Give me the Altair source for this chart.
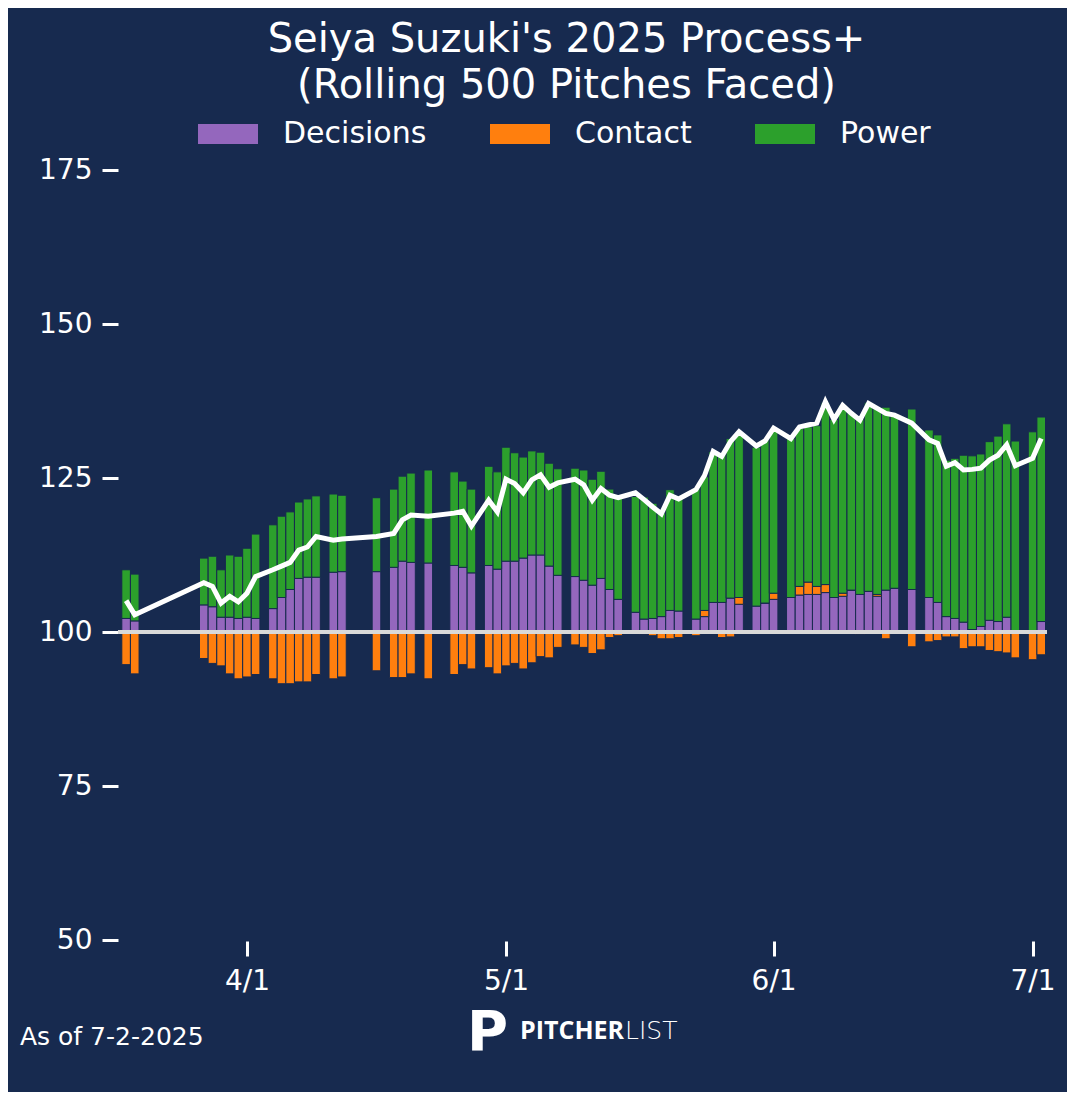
import altair as alt
import pandas as pd

BG = "#172a4f"
BASELINE = 100

dates = [
    "2025-03-18", "2025-03-19", "2025-03-27", "2025-03-28", "2025-03-29", "2025-03-30",
    "2025-03-31", "2025-04-01", "2025-04-02", "2025-04-04", "2025-04-05", "2025-04-06",
    "2025-04-07", "2025-04-08", "2025-04-09", "2025-04-11", "2025-04-12", "2025-04-16",
    "2025-04-18", "2025-04-19", "2025-04-20", "2025-04-22", "2025-04-25", "2025-04-26",
    "2025-04-27", "2025-04-29", "2025-04-30", "2025-05-01", "2025-05-02", "2025-05-03",
    "2025-05-04", "2025-05-05", "2025-05-06", "2025-05-07", "2025-05-09", "2025-05-10",
    "2025-05-11", "2025-05-12", "2025-05-13", "2025-05-14", "2025-05-16", "2025-05-17",
    "2025-05-18", "2025-05-19", "2025-05-20", "2025-05-21", "2025-05-23", "2025-05-24",
    "2025-05-25", "2025-05-26", "2025-05-27", "2025-05-28", "2025-05-30", "2025-05-31",
    "2025-06-01", "2025-06-03", "2025-06-04", "2025-06-05", "2025-06-06", "2025-06-07",
    "2025-06-08", "2025-06-09", "2025-06-10", "2025-06-11", "2025-06-12", "2025-06-13",
    "2025-06-14", "2025-06-15", "2025-06-17", "2025-06-19", "2025-06-20", "2025-06-21",
    "2025-06-22", "2025-06-23", "2025-06-24", "2025-06-25", "2025-06-26", "2025-06-27",
    "2025-06-28", "2025-06-29", "2025-07-01", "2025-07-02",
]

# contributions relative to 100
decisions = [
    2.2, 1.8, 4.4, 4.1, 2.4, 2.4, 2.2, 2.4, 2.2, 3.8, 5.6, 6.9,
    8.7, 8.9, 8.9, 9.7, 9.8, 9.8, 10.5, 11.5, 11.3, 11.2, 10.8, 10.5,
    9.6, 10.8, 10.2, 11.5, 11.5, 12.0, 12.5, 12.5, 10.7, 9.2, 9.0, 8.4,
    7.6, 8.7, 6.9, 5.3, 3.2, 2.1, 2.2, 2.5, 3.5, 3.4, 2.1, 2.5,
    4.8, 4.8, 5.5, 4.5, 4.2, 4.7, 5.3, 5.6, 6.0, 6.1, 6.1, 6.4,
    5.6, 5.8, 6.8, 6.1, 6.6, 5.8, 6.8, 7.1, 6.9, 5.6, 4.8, 2.5,
    2.2, 1.6, 0.4, 0.9, 1.9, 1.7, 2.4, 0.0, 0.0, 1.7,
]
contact = [
    -5.3, -6.8, -4.3, -5.1, -5.5, -6.8, -7.6, -7.3, -6.9, -7.6, -8.4, -8.4,
    -8.1, -8.1, -6.9, -7.6, -7.3, -6.3, -7.4, -7.4, -6.8, -7.6, -6.9, -5.3,
    -6.0, -5.8, -6.8, -5.5, -5.1, -6.0, -5.0, -4.0, -4.2, -2.5, -2.1, -2.5,
    -3.5, -2.9, -0.9, -0.6, -0.2, -0.4, -0.6, -1.1, -1.1, -0.9, -0.6, 1.0,
    0.0, -0.9, -0.8, 1.1, -0.2, 0.0, 1.0, 0.0, 1.4, 2.0, 1.3, 1.3,
    0.0, 0.5, 0.0, -0.4, 0.0, 0.3, -1.1, 0.0, -2.4, -1.6, -1.4, -0.8,
    -0.8, -2.7, -2.4, -2.4, -3.0, -3.2, -3.4, -4.2, -4.5, -3.7,
]
power = [
    7.9, 7.6, 7.6, 8.2, 7.7, 10.1, 10.1, 11.2, 13.7, 13.6, 13.2, 12.6,
    12.4, 12.7, 13.2, 12.7, 12.4, 12.0, 12.7, 13.8, 14.5, 15.1, 15.2, 14.0,
    13.6, 16.1, 15.8, 18.5, 17.6, 16.4, 16.9, 16.7, 16.7, 17.3, 17.6, 17.9,
    17.2, 17.4, 16.3, 16.6, 18.8, 19.8, 18.7, 16.8, 19.6, 18.7, 21.2, 21.7,
    24.5, 24.2, 25.9, 26.7, 25.8, 26.5, 26.5, 25.8, 25.7, 25.2, 26.1, 29.5,
    28.9, 30.5, 28.8, 28.5, 30.6, 30.2, 29.7, 28.2, 29.3, 27.2, 27.2, 25.4,
    26.0, 27.1, 28.2, 28.0, 29.0, 30.1, 31.4, 31.0, 32.5, 33.2,
]
process_plus = [
    105.1, 102.8, 108.0, 107.4, 104.7, 105.8, 104.9, 106.3, 109.0, 110.1, 110.7, 111.3,
    113.3, 113.8, 115.5, 114.9, 115.1, 115.5, 116.0, 118.2, 119.0, 118.8, 119.3, 119.6,
    117.2, 121.4, 119.5, 124.8, 124.1, 122.6, 124.7, 125.5, 123.5, 124.2, 124.8, 123.9,
    121.4, 123.3, 122.2, 121.8, 122.6, 121.5, 120.3, 119.2, 122.2, 121.6, 123.1, 125.4,
    129.3, 128.5, 130.9, 132.5, 130.2, 131.0, 133.1, 131.4, 133.3, 133.6, 133.9, 137.4,
    134.5, 136.8, 135.5, 134.4, 137.1, 136.3, 135.5, 135.2, 133.9, 131.2, 130.6, 126.9,
    127.5, 126.3, 126.4, 126.6, 127.9, 128.7, 130.4, 127.0, 128.2, 131.4,
]

components = ["Decisions", "Contact", "Power"]
colors = ["#9467bd", "#ff7f0e", "#2ca02c"]
y_ticks = [50, 75, 100, 125, 150, 175]
x_ticks = ["2025-04-01", "2025-05-01", "2025-06-01", "2025-07-01"]
x_range = ["2025-03-17 01:26", "2025-07-02 16:05"]

title_lines = ["Seiya Suzuki's 2025 Process+", "(Rolling 500 Pitches Faced)"]
as_of = "As of 7-2-2025"


def to_dt(s):
    t = pd.Timestamp(s)
    return alt.DateTime(year=t.year, month=t.month, date=t.day,
                        hours=t.hour, minutes=t.minute, utc=True)


n = len(dates)
long_df = pd.DataFrame({
    "date": dates * 3,
    "component": [c for c in components for _ in range(n)],
    "order": [i for i in range(3) for _ in range(n)],
    "value": decisions + contact + power,
})
line_df = pd.DataFrame({"date": dates, "process_plus": process_plus})

x_scale = alt.Scale(type="utc", domain=[to_dt(d) for d in x_range], padding=0)
y_scale = alt.Scale(domain=[y_ticks[0], y_ticks[-1]], nice=False, zero=False)

x_axis = alt.Axis(
    values=[to_dt(d) for d in x_ticks], format="%-m/%-d", title=None,
    grid=False, domain=False, tickColor="white", tickWidth=3, tickSize=15,
    offset=1, labelFontSize=28, labelColor="white", labelPadding=11,
)
y_axis = alt.Axis(
    values=y_ticks, title=None, grid=False, domain=False, tickColor="white",
    tickWidth=3, tickSize=16, labelFontSize=28, labelColor="white", labelPadding=10,
)

bars = (
    alt.Chart(long_df)
    .transform_stack(stack="value", groupby=["date"], as_=["v0", "v1"],
                     sort=[alt.SortField("order")])
    .transform_calculate(y0=f"datum.v0 + {BASELINE}", y1=f"datum.v1 + {BASELINE}")
    .mark_bar(width=8.6, stroke=BG, strokeWidth=1)
    .encode(
        x=alt.X("date:T", scale=x_scale, axis=x_axis),
        y=alt.Y("y0:Q", scale=y_scale, axis=y_axis),
        y2="y1:Q",
        color=alt.Color(
            "component:N",
            scale=alt.Scale(domain=components, range=colors),
            legend=alt.Legend(
                title=None, orient="none", direction="horizontal",
                legendX=80, legendY=-66, padding=0,
                symbolType="M-1,-0.3333H1V0.3333H-1Z", symbolSize=3600,
                symbolStrokeWidth=0, symbolOpacity=1,
                labelFontSize=30, labelColor="white", labelOffset=25,
                columnPadding=63,
            ),
        ),
    )
)

baseline = (
    alt.Chart(pd.DataFrame({"y": [BASELINE]}))
    .mark_rule(color="#d9d9d9", strokeWidth=4)
    .encode(y=alt.Y("y:Q", scale=y_scale))
)

line = (
    alt.Chart(line_df)
    .mark_line(color="white", strokeWidth=5)
    .encode(x=alt.X("date:T", scale=x_scale), y=alt.Y("process_plus:Q", scale=y_scale))
)

footer = (
    alt.Chart(pd.DataFrame({"t": [as_of]}))
    .mark_text(align="left", baseline="alphabetic", fontSize=25, color="white")
    .encode(text="t:N", x=alt.value(-98), y=alt.value(875))
)
logo_p = (
    alt.Chart(pd.DataFrame({"t": ["P"]}))
    .mark_text(align="left", baseline="alphabetic", fontSize=56, fontWeight="bold",
               color="white")
    .encode(text="t:N", x=alt.value(349), y=alt.value(880))
)
logo_a = (
    alt.Chart(pd.DataFrame({"t": ["PITCHER"]}))
    .mark_text(align="left", baseline="alphabetic", fontSize=25, fontWeight="bold",
               font="Open Sans", color="white")
    .encode(text="t:N", x=alt.value(402), y=alt.value(869))
)
logo_b = (
    alt.Chart(pd.DataFrame({"t": ["LIST"]}))
    .mark_text(align="left", baseline="alphabetic", fontSize=25, fontWeight=300,
               font="DejaVu Sans", color="white")
    .encode(text="t:N", x=alt.value(507), y=alt.value(869))
)

chart = (
    alt.layer(bars, baseline, line, footer, logo_p, logo_a, logo_b)
    .properties(
        width=929, height=770,
        autosize=alt.AutoSizeParams(type="none"),
        padding={"left": 110, "top": 162, "right": 20, "bottom": 152},
        background=BG,
        title=alt.TitleParams(
            text=title_lines, fontSize=40, fontWeight="normal", color="white",
            anchor="middle", frame="group", dx=-16, lineHeight=45.6,
            baseline="alphabetic", offset=0, dy=34,
        ),
    )
    .configure(font="DejaVu Sans")
    .configure_view(strokeWidth=0)
)

chart.save("out.html", embed_options={"renderer": "svg", "actions": False})
